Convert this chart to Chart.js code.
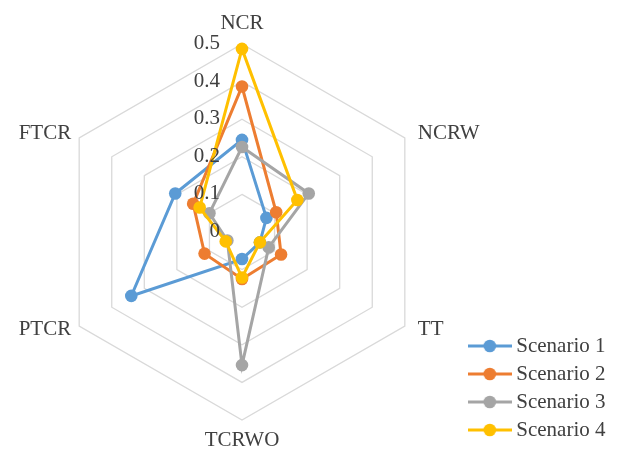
<!DOCTYPE html>
<html>
<head>
<meta charset="utf-8">
<script src="https://cdn.jsdelivr.net/npm/chart.js@4.4.1/dist/chart.umd.min.js"></script>
<style>
  html, body { margin: 0; padding: 0; background: #ffffff; }
  #wrap { width: 621px; height: 449px; }
</style>
</head>
<body>
<div id="wrap"><canvas id="radar" width="621" height="449"></canvas></div>
<script>
// Axes of the radar, clockwise from the top
const CATEGORIES = ['NCR', 'NCRW', 'TT', 'TCRWO', 'PTCR', 'FTCR'];

// Scenario values per axis
const SCENARIO_1 = [0.245, 0.075, 0.055, 0.072, 0.340, 0.205];
const SCENARIO_2 = [0.387, 0.105, 0.120, 0.125, 0.115, 0.150];
const SCENARIO_3 = [0.226, 0.205, 0.082, 0.354, 0.045, 0.100];
const SCENARIO_4 = [0.487, 0.170, 0.055, 0.121, 0.050, 0.130];

const SERIES_NAMES = ['Scenario 1', 'Scenario 2', 'Scenario 3', 'Scenario 4'];
const SERIES_VALUES = [SCENARIO_1, SCENARIO_2, SCENARIO_3, SCENARIO_4];
const SERIES_COLORS = ['#5B9BD5', '#ED7D31', '#A5A5A5', '#FFC000'];

// Radial axis ticks
const TICK_VALUES = [0, 0.1, 0.2, 0.3, 0.4, 0.5];
const TICK_LABELS = ['0', '0.1', '0.2', '0.3', '0.4', '0.5'];

const FONT_FAMILY = '"Liberation Serif", "Times New Roman", serif';
const TEXT_COLOR = '#404040';
const FONT_SIZE = 21;

// Legend swatch: a short line with a round marker in the middle
function makeSwatch(color) {
  const c = document.createElement('canvas');
  c.width = 44; c.height = 14;
  const g = c.getContext('2d');
  g.strokeStyle = color;
  g.lineWidth = 3;
  g.beginPath(); g.moveTo(0, 7); g.lineTo(44, 7); g.stroke();
  g.fillStyle = color;
  g.beginPath(); g.arc(22, 7, 6.3, 0, Math.PI * 2); g.fill();
  return c;
}
const SWATCHES = SERIES_COLORS.map(makeSwatch);

// Tick values drawn to the left of the vertical axis
const tickLabelPlugin = {
  id: 'tickLabels',
  afterDatasetsDraw(chart) {
    const s = chart.scales.r;
    const ctx = chart.ctx;
    ctx.save();
    ctx.font = FONT_SIZE + 'px ' + FONT_FAMILY;
    ctx.fillStyle = TEXT_COLOR;
    ctx.textAlign = 'right';
    ctx.textBaseline = 'middle';
    TICK_VALUES.forEach((v, i) => {
      const d = s.getDistanceFromCenterForValue(v);
      ctx.fillText(TICK_LABELS[i], s.xCenter - 22, s.yCenter - d - 0.5);
    });
    ctx.restore();
  }
};

// Category names just outside the outer ring
const axisNamePlugin = {
  id: 'axisNames',
  afterDraw(chart) {
    const s = chart.scales.r;
    const ctx = chart.ctx;
    ctx.save();
    ctx.font = FONT_SIZE + 'px ' + FONT_FAMILY;
    ctx.fillStyle = TEXT_COLOR;
    ctx.textBaseline = 'middle';
    CATEGORIES.forEach((name, i) => {
      const p = s.getPointPosition(i, s.drawingArea);
      const a = s.getIndexAngle(i);
      const dx = Math.sin(a), dy = -Math.cos(a);
      let x = p.x, y = p.y;
      if (Math.abs(dx) < 0.01) {
        ctx.textAlign = 'center';
        y += dy < 0 ? -21 : 20.5;
      } else {
        ctx.textAlign = dx > 0 ? 'left' : 'right';
        x += dx > 0 ? 13 : -8;
        y += dy < 0 ? -4.5 : 3.7;
      }
      ctx.fillText(name, x, y);
    });
    ctx.restore();
  }
};

const datasets = SERIES_NAMES.map((name, i) => ({
  label: name,
  data: SERIES_VALUES[i],
  borderColor: SERIES_COLORS[i],
  backgroundColor: SERIES_COLORS[i],
  borderWidth: 3,
  fill: false,
  tension: 0,
  pointRadius: 6.3,
  pointHoverRadius: 6.3,
  pointBorderWidth: 0,
  pointBackgroundColor: SERIES_COLORS[i],
  order: SERIES_NAMES.length - i
}));

new Chart(document.getElementById('radar'), {
  type: 'radar',
  data: { labels: CATEGORIES, datasets },
  options: {
    responsive: false,
    animation: false,
    devicePixelRatio: 1,
    layout: { padding: { left: 0, top: 0, right: 5.5, bottom: 1.5 } },
    plugins: {
      tooltip: { enabled: false },
      legend: {
        position: 'right',
        align: 'end',
        labels: {
          usePointStyle: true,
          pointStyleWidth: 32,
          padding: 7,
          color: TEXT_COLOR,
          font: { family: FONT_FAMILY, size: FONT_SIZE },
          sort: (a, b) => a.datasetIndex - b.datasetIndex,
          generateLabels(chart) {
            const items = Chart.defaults.plugins.legend.labels.generateLabels(chart);
            items.forEach(it => { it.pointStyle = SWATCHES[it.datasetIndex]; });
            return items;
          }
        }
      }
    },
    scales: {
      r: {
        min: 0,
        max: 0.5,
        ticks: { display: false, stepSize: 0.1 },
        pointLabels: { display: false },
        angleLines: { display: false },
        grid: { circular: false, color: '#D9D9D9', lineWidth: 1.3 },
        afterFit(scale) {
          scale.xCenter = 242;
          scale.yCenter = 232;
          scale.drawingArea = 188;
        }
      }
    }
  },
  plugins: [tickLabelPlugin, axisNamePlugin]
});
</script>
</body>
</html>
